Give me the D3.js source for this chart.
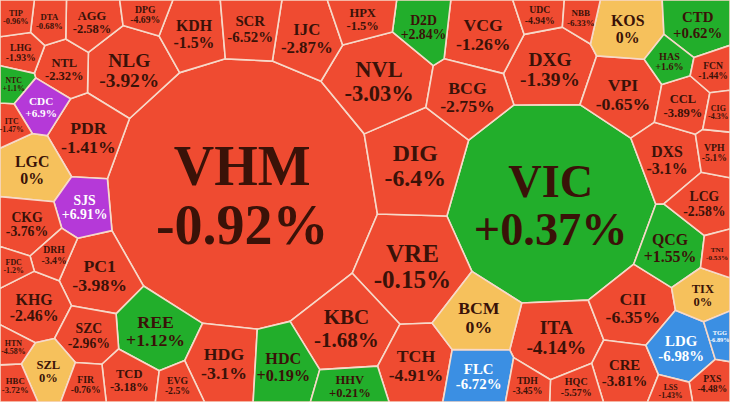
<!DOCTYPE html>
<html><head><meta charset="utf-8">
<script src="https://cdn.jsdelivr.net/npm/d3@7"></script>
<style>body{margin:0;background:#fff}svg{display:block}</style>
</head><body><svg id="chart" width="730" height="402"></svg>
<script>
const codes = ["VHM","VIC","DIG","VRE","NVL","KBC","DXG","REE","ITA","NLG","VCG","TCH","BCG","BCM","VPI","CII","PC1","PDR","HDG","KDH","DXS","IJC","HDC","QCG","KHG","LGC","KOS","CRE","LDG","CTD","SCR","FLC","SJS","LCG","CKG","NTL","TCD","HPX","AGG","SZC","HHV","D2D","CCL","TIX","SZL","CDC","HAS","DTA","DRH","TDH","EVG","FIR","UDC","LHG","PXS","HQC","DPG","VPH","FCN","TNI","HBC","NBB","TIP","CIG","LSS","TGG","FDC","HTN","ITC","NTC"];
const changes = [-0.92,0.37,-6.4,-0.15,-3.03,-1.68,-1.39,1.12,-4.14,-3.92,-1.26,-4.91,-2.75,0,-0.65,-6.35,-3.98,-1.41,-3.1,-1.5,-3.1,-2.87,0.19,1.55,-2.46,0,0,-3.81,-6.98,0.62,-6.52,-6.72,6.91,-2.58,-3.76,-2.32,-3.18,-1.5,-2.58,-2.96,0.21,2.84,-3.89,0,0,6.9,1.6,-0.68,-3.4,-3.45,-2.5,-0.76,-4.94,-1.93,-4.48,-5.57,-4.69,-5.1,-1.44,-0.53,-3.72,-6.33,-0.96,-4.3,-1.43,-6.89,-1.2,-4.58,-1.47,1.1];
const weights = [60,34,9,10,8,7,6,5,6,6,5,5,5,5,5,5,5,5,5,4,4,4.5,4.5,4,4,4,4,3.5,3.5,3.5,3.5,3.5,3,3,3,2.5,2.5,2.5,2.5,3,2.5,3,2.5,2.5,2.5,2,1.6,1.5,1.5,1.5,1.5,1.5,1.5,1.5,1.5,1.6,1.5,1.5,1.5,1.2,1.2,1.2,1.2,1,1,1,1,1,1,1];

const W = 730, H = 402;
const svg = d3.select('#chart');
const data = codes.map((c,i) => ({code:c, change:changes[i], value:weights[i]}));

// initial sites from a circle pack
const root = d3.hierarchy({children:data}).sum(d => d.value).sort((a,b) => b.value - a.value);
d3.pack().size([H, H]).padding(1)(root);
const leaves = root.leaves();
const sx = d3.scaleLinear().domain([0, H]).range([0, W]);
const sy = d3.scaleLinear().domain([0, H]).range([0, H]);
const total = d3.sum(leaves, d => d.value);
const sites = leaves.map(d => ({d, x: sx(d.x), y: sy(d.y), w: 1, target: d.value / total * W * H}));

// power diagram by half-plane clipping
function clip(poly, a, b, c) { // keep a*x + b*y <= c
  const out = [];
  for (let i = 0; i < poly.length; i++) {
    const p = poly[i], q = poly[(i + 1) % poly.length];
    const fp = a * p[0] + b * p[1] - c, fq = a * q[0] + b * q[1] - c;
    if (fp <= 0) out.push(p);
    if ((fp < 0 && fq > 0) || (fp > 0 && fq < 0)) {
      const t = fp / (fp - fq);
      out.push([p[0] + t * (q[0] - p[0]), p[1] + t * (q[1] - p[1])]);
    }
  }
  return out;
}
function cells() {
  return sites.map((s, i) => {
    let poly = [[0,0],[W,0],[W,H],[0,H]];
    for (let j = 0; j < sites.length && poly.length; j++) {
      if (j === i) continue;
      const t = sites[j];
      poly = clip(poly, 2 * (t.x - s.x), 2 * (t.y - s.y),
        t.x * t.x + t.y * t.y - s.x * s.x - s.y * s.y - t.w + s.w);
    }
    return poly;
  });
}

let polys;
for (let it = 0; it < 250; it++) {
  polys = cells();
  sites.forEach((s, i) => {
    const p = polys[i];
    if (p.length > 2) {
      const A = Math.abs(d3.polygonArea(p));
      const c = d3.polygonCentroid(p);
      s.x = c[0]; s.y = c[1];
      let r = Math.sqrt(Math.max(s.w, 1)) * Math.sqrt(s.target / Math.max(A, 1));
      s.w = Math.min(r * r, s.w * 4 + 50);
    } else {
      s.w = Math.max(1, s.w * 0.5);
    }
  });
  // keep weights from swallowing neighbours
  sites.forEach((s, i) => {
    let md = Infinity;
    sites.forEach((t, j) => { if (j !== i) md = Math.min(md, (s.x - t.x) ** 2 + (s.y - t.y) ** 2); });
    s.w = Math.min(s.w, md * 0.9);
  });
}
polys = cells();

const color = v => v >= 6.8 ? '#b539d8' : v <= -6.7 ? '#3b8fe3' : v === 0 ? '#f6c15c' : v > 0 ? '#22ae2b' : '#ef4b31';
const fmt = v => (v > 0 ? '+' : '') + v + '%';

sites.forEach((s, i) => {
  const poly = polys[i];
  if (poly.length < 3) return;
  const d = s.d;
  const g = svg.append('g');
  g.append('path').attr('d', 'M' + poly.join('L') + 'Z')
    .attr('fill', color(d.data.change))
    .attr('stroke', '#f7d9c9').attr('stroke-width', 1.6).attr('stroke-linejoin', 'round');
  const c = d3.polygonCentroid(poly);
  const xs = poly.map(p => p[0]);
  const cw = d3.max(xs) - d3.min(xs);
  const area = Math.abs(d3.polygonArea(poly));
  const label = fmt(d.data.change);
  let fs = Math.min(Math.sqrt(area) * 0.26, cw * 0.8 / (label.length * 0.55));
  fs = Math.max(4.5, Math.min(56, fs));
  const tc = (d.data.change >= 6.8 || d.data.change <= -6.7) ? '#fff' : '#3a1208';
  const t = g.append('text').attr('x', c[0]).attr('y', c[1]).attr('text-anchor', 'middle')
    .attr('font-family', 'Liberation Serif, serif').attr('font-weight', 'bold')
    .attr('font-size', fs).attr('fill', tc);
  t.append('tspan').attr('x', c[0]).attr('dy', -fs * 0.15).text(d.data.code);
  t.append('tspan').attr('x', c[0]).attr('dy', fs * 1.05).text(label);
});
</script></body></html>
